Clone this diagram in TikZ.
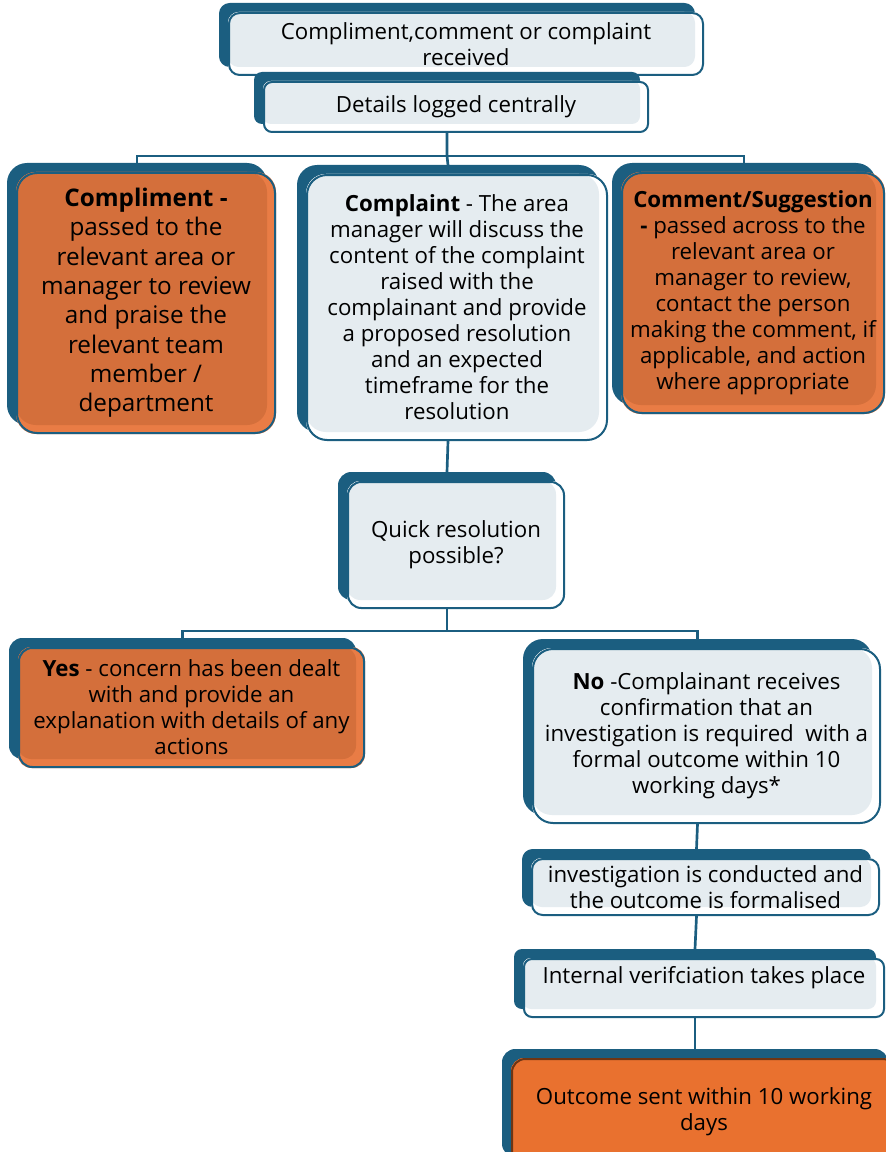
\documentclass[tikz,border=0pt]{standalone}
\usepackage{fontspec}
\setmainfont{Open Sans}
\usetikzlibrary{calc}

\definecolor{deepblue}{RGB}{27,94,128}
\definecolor{paleblue}{RGB}{229,236,240}
\definecolor{rustdark}{RGB}{212,111,59}
\definecolor{rustlight}{RGB}{233,124,69}
\definecolor{outfill}{RGB}{233,113,47}
\definecolor{outline}{RGB}{110,53,20}

\pgfdeclarelayer{background}
\pgfsetlayers{background,main}

\begin{document}
\begin{tikzpicture}[x=0.75pt,y=-0.75pt,
  box/.style={draw=deepblue, line width=1.5pt, rounded corners=#1, align=center,
    inner sep=0pt, font=\fontsize{16.7}{19.5}\selectfont},
  box/.default=8pt,
  big/.style={font=\fontsize{18.2}{22}\selectfont},
  sz/.style 2 args={minimum width=#1*0.75pt, minimum height=#2*0.75pt},
  link/.style={draw=deepblue, line width=2pt}]
\useasboundingbox (0,0) rectangle (885,1152);

\node[box, sz={474}{62}] (recv) at (466,44) {Compliment,comment or complaint\\received};
\node[box=6pt, sz={384}{50}] (details) at (456,107) {Details logged centrally};
\node[box=15pt, big, sz={258}{260}] (compl) at (146,303) {\textbf{Compliment -}\\passed to the\\relevant area or\\manager to review\\and praise the\\relevant team\\member /\\department};
\node[box=15pt, sz={300}{265}] (complaint) at (457,307.5) {\textbf{Complaint} - The area\\manager will discuss the\\content of the complaint\\raised with the\\complainant and provide\\a proposed resolution\\and an expected\\timeframe for the\\resolution};
\node[box=15pt, sz={262}{240}] (comment) at (753,293) {\textbf{Comment/Suggestion}\\\textbf{-} passed across to the\\relevant area or\\manager to review,\\contact the person\\making the comment, if\\applicable, and action\\where appropriate};
\node[box=10pt, sz={216}{126}] (quick) at (456,545) {Quick resolution\\possible?};
\node[box=10pt, sz={345}{119}] (yes) at (191.5,707.5) {\textbf{Yes} - concern has been dealt\\with and provide an\\explanation with details of any\\actions};
\node[box=15pt, sz={347}{174}] (no) at (706.5,736) {\textbf{No} -Complainant receives\\confirmation that an\\investigation is required\ \ with a\\formal outcome within 10\\working days*};
\node[box, sz={347}{56}] (invest) at (705.5,887) {investigation is conducted and\\the outcome is formalised};
\node[box=6pt, sz={360}{58}, text depth=20pt] (verify) at (704,988) {Internal verifciation takes place};
\node[box=10pt, draw=outline, sz={384}{106}] (outcome) at (704,1112) {Outcome sent within 10 working\\days};

% shadow boxes behind the front boxes
\begin{pgfonlayer}{background}
\foreach \n/\r/\a/\b in {recv/8pt/paleblue/white, details/6pt/paleblue/white,
    compl/15pt/rustdark/rustlight, complaint/15pt/paleblue/white,
    comment/15pt/rustdark/rustlight, quick/10pt/paleblue/white,
    yes/10pt/rustdark/rustlight, no/15pt/paleblue/white,
    invest/8pt/paleblue/white, verify/6pt/paleblue/white,
    outcome/10pt/outfill/outfill}{
  \fill[deepblue, rounded corners=\r] ($(\n.north west)+(-9,-9)$) rectangle ($(\n.south east)+(-9,-9)$);
  \fill[\b, rounded corners=\r] (\n.north west) rectangle (\n.south east);
  \fill[\a, rounded corners=\r] (\n.north west) rectangle ($(\n.south east)+(-9,-9)$);
  \coordinate (\n-top) at ($(\n.north)+(-9,-9)$);
  \coordinate (\n-bot) at ($(\n.south)+(-9,-9)$);
}
\draw[link] (details-top |- recv.south) -- (details-top);
\end{pgfonlayer}

\draw[link] (details-bot |- details.south) -- ++(0,23) coordinate (split1) -- (complaint-top);
\draw[link] (compl-top) |- (split1) -| (comment-top);
\draw[link] (complaint-bot |- complaint.south) -- (quick-top);
\draw[link] (quick-bot |- quick.south) -- ++(0,22) coordinate (split2);
\draw[link] (yes-top) |- (split2) -| (no-top);
\draw[link] (no-bot |- no.south) -- (invest-top);
\draw[link] (invest-bot |- invest.south) -- (verify-top);
\draw[link] (verify-bot |- verify.south) -- (outcome-top);
\end{tikzpicture}
\end{document}
